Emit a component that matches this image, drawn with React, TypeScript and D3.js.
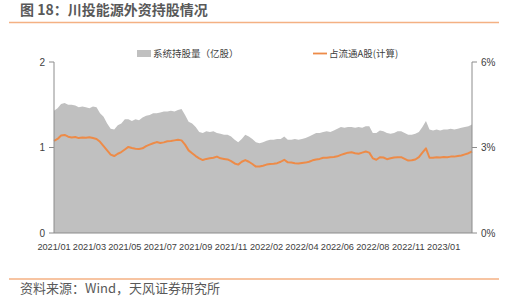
import React from "react";
import * as d3 from "d3";

const xLabels = ["2021/01","2021/03","2021/05","2021/07","2021/09","2021/11","2022/02","2022/04","2022/06","2022/08","2022/11","2023/01"];
const labelStep = 10;

const holdings = [
  1.43,1.46,1.51,1.52,1.50,1.50,1.49,1.47,1.48,1.47,
  1.46,1.48,1.47,1.40,1.36,1.28,1.22,1.21,1.26,1.28,
  1.33,1.33,1.31,1.33,1.32,1.35,1.37,1.38,1.40,1.40,
  1.41,1.42,1.42,1.43,1.42,1.44,1.45,1.38,1.30,1.28,
  1.24,1.18,1.17,1.19,1.18,1.19,1.17,1.16,1.15,1.15,
  1.13,1.09,1.06,1.10,1.15,1.13,1.10,1.06,1.05,1.06,
  1.08,1.09,1.09,1.10,1.10,1.13,1.09,1.09,1.10,1.09,
  1.10,1.11,1.13,1.15,1.17,1.17,1.18,1.19,1.18,1.20,
  1.22,1.24,1.23,1.24,1.24,1.23,1.24,1.23,1.25,1.25,
  1.17,1.17,1.20,1.19,1.17,1.16,1.17,1.19,1.19,1.17,
  1.15,1.15,1.16,1.18,1.24,1.31,1.21,1.20,1.21,1.20,
  1.21,1.21,1.22,1.21,1.22,1.23,1.24,1.25,1.27
];

const sharePct = [
  3.23,3.30,3.42,3.44,3.38,3.35,3.37,3.33,3.35,3.34,
  3.36,3.33,3.30,3.20,3.05,2.90,2.75,2.70,2.78,2.84,
  2.93,3.02,2.98,2.96,2.95,2.97,3.05,3.10,3.15,3.19,
  3.16,3.18,3.22,3.23,3.25,3.27,3.25,3.10,2.90,2.80,
  2.70,2.62,2.56,2.60,2.62,2.64,2.68,2.62,2.60,2.58,
  2.52,2.44,2.40,2.50,2.56,2.50,2.42,2.33,2.33,2.36,
  2.40,2.42,2.43,2.45,2.50,2.57,2.48,2.47,2.45,2.44,
  2.46,2.47,2.50,2.55,2.58,2.60,2.64,2.64,2.66,2.67,
  2.69,2.74,2.78,2.82,2.83,2.80,2.78,2.82,2.86,2.82,
  2.62,2.57,2.66,2.65,2.59,2.62,2.65,2.66,2.66,2.60,
  2.54,2.55,2.58,2.66,2.82,2.97,2.64,2.64,2.66,2.65,
  2.67,2.66,2.68,2.68,2.70,2.72,2.76,2.80,2.86
];

const leftTicks = [0, 1, 2];
const rightTicks = [0, 3, 6];

const W = 529, H = 303;
const L = 54, R = 472, T = 62, B = 233;
const GRAY = "#c0c0c0";
const ORANGE = "#ed8b48";
const AXIS = "#8c8c8c";
const TEXT = "#404040";

export default function App() {
  const n = holdings.length;
  const x = d3.scaleLinear().domain([0, n - 1]).range([L, R]);
  const yL = d3.scaleLinear().domain([0, 2]).range([B, T]);
  const yR = d3.scaleLinear().domain([0, 6]).range([B, T]);

  const area = d3.area<number>().x((_, i) => x(i)).y0(B).y1((d) => yL(d));
  const line = d3.line<number>().x((_, i) => x(i)).y((d) => yR(d));

  const font = "'Microsoft YaHei','Noto Sans CJK SC','DejaVu Sans',sans-serif";
  const numFont = "'Liberation Sans',Arial,sans-serif";

  return (
    <div style={{ position: "fixed", left: 0, top: 0 }}>
      <svg width={W} height={H} style={{ display: "block", background: "#fff" }} fontFamily={font}>
        <text x={20} y={15} fontSize={14} fontWeight={700} fill="#595959">图 18：川投能源外资持股情况</text>
        <line x1={9} x2={499} y1={22.5} y2={22.5} stroke="#f4b183" strokeWidth={1.5} />

        <path d={area(holdings) || ""} fill={GRAY} />
        <path d={line(sharePct) || ""} fill="none" stroke={ORANGE} strokeWidth={2} strokeLinejoin="round" />

        <line x1={L} x2={L} y1={T} y2={B} stroke={AXIS} strokeWidth={1} />
        <line x1={R} x2={R} y1={T} y2={B} stroke={AXIS} strokeWidth={1} />
        <line x1={L} x2={R} y1={B} y2={B} stroke={AXIS} strokeWidth={1} />

        {leftTicks.map((t) => (
          <g key={"l" + t}>
            <line x1={L - 5} x2={L} y1={yL(t)} y2={yL(t)} stroke={AXIS} />
            <text x={L - 9} y={yL(t)} dy="0.35em" textAnchor="end" fontSize={10} fill={TEXT} fontFamily={numFont}>{t}</text>
          </g>
        ))}
        {rightTicks.map((t) => (
          <g key={"r" + t}>
            <line x1={R} x2={R + 5} y1={yR(t)} y2={yR(t)} stroke={AXIS} />
            <text x={R + 9} y={yR(t)} dy="0.35em" textAnchor="start" fontSize={10} fill={TEXT} fontFamily={numFont}>{t}%</text>
          </g>
        ))}
        {xLabels.map((lab, k) => (
          <text key={lab} x={x(k * labelStep)} y={250} textAnchor="middle" fontSize={9.2} fill={TEXT} fontFamily={numFont}>{lab}</text>
        ))}

        <rect x={137} y={50} width={14} height={7} fill={GRAY} />
        <text x={153} y={54} dy="0.35em" fontSize={9.5} fill={TEXT}>系统持股量（亿股）</text>
        <line x1={313} x2={327} y1={53.5} y2={53.5} stroke={ORANGE} strokeWidth={1.8} />
        <text x={329} y={54} dy="0.35em" fontSize={9.5} fill={TEXT}>占流通A股(计算)</text>

        <line x1={9} x2={499} y1={279} y2={279} stroke="#f4b183" strokeWidth={1.5} />
        <text x={20} y={293} fontSize={13} fill="#595959">资料来源：Wind，天风证券研究所</text>
      </svg>
    </div>
  );
}
